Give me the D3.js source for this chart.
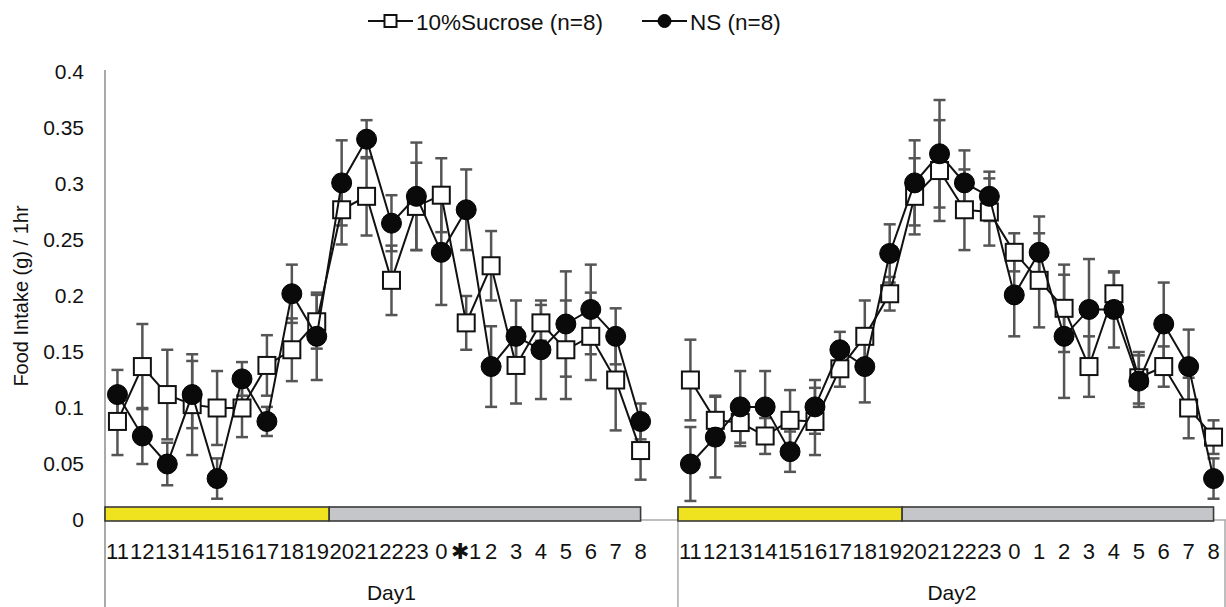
<!DOCTYPE html>
<html>
<head>
<meta charset="utf-8">
<script src="https://cdn.jsdelivr.net/npm/d3@7"></script>
<style>
  body { margin: 0; background: #fff; }
  svg { display: block; }
  text { font-family: "Liberation Sans", Arial, Helvetica, sans-serif; fill: #111; }
</style>
</head>
<body>
<svg id="chart" width="1226" height="607"></svg>
<script>
// ---- data -------------------------------------------------------------
const days = ["Day1", "Day2"];
const hoursDay1 = ["11","12","13","14","15","16","17","18","19","20","21","22","23","0","\u27311","2","3","4","5","6","7","8"];
const hoursDay2 = ["11","12","13","14","15","16","17","18","19","20","21","22","23","0","1","2","3","4","5","6","7","8"];
// light phase hours (yellow); the remaining hours are the dark phase (grey)
const lightHours = ["11","12","13","14","15","16","17","18","19"];

const seriesNames = ["10%Sucrose (n=8)", "NS (n=8)"];

// mean food intake (g / 1 hr) and SEM
const sucroseDay1    = [0.088,0.137,0.112,0.103,0.100,0.100,0.138,0.152,0.177,0.277,0.289,0.214,0.280,0.290,0.176,0.227,0.138,0.176,0.152,0.164,0.125,0.062];
const sucroseDay1Sem = [0.030,0.038,0.040,0.045,0.033,0.026,0.027,0.028,0.024,0.031,0.035,0.031,0.039,0.033,0.024,0.031,0.034,0.016,0.044,0.039,0.045,0.026];
const nsDay1         = [0.112,0.075,0.050,0.112,0.037,0.126,0.088,0.202,0.164,0.301,0.340,0.265,0.289,0.239,0.277,0.137,0.164,0.152,0.175,0.188,0.164,0.088];
const nsDay1Sem      = [0.022,0.025,0.019,0.030,0.018,0.015,0.013,0.026,0.039,0.038,0.017,0.025,0.048,0.047,0.036,0.036,0.032,0.044,0.047,0.040,0.025,0.016];
const sucroseDay2    = [0.125,0.089,0.087,0.075,0.089,0.088,0.135,0.164,0.202,0.289,0.312,0.277,0.275,0.239,0.214,0.189,0.137,0.202,0.127,0.137,0.100,0.074];
const sucroseDay2Sem = [0.036,0.022,0.021,0.016,0.027,0.030,0.016,0.032,0.015,0.034,0.045,0.036,0.030,0.017,0.042,0.039,0.027,0.019,0.023,0.018,0.027,0.015];
const nsDay2         = [0.050,0.074,0.101,0.101,0.061,0.101,0.152,0.137,0.238,0.301,0.327,0.301,0.289,0.201,0.239,0.164,0.188,0.188,0.124,0.175,0.137,0.037];
const nsDay2Sem      = [0.033,0.036,0.032,0.032,0.018,0.024,0.016,0.032,0.026,0.038,0.048,0.029,0.022,0.037,0.032,0.055,0.045,0.034,0.023,0.037,0.033,0.018];

const yTicks = [0, 0.05, 0.1, 0.15, 0.2, 0.25, 0.3, 0.35, 0.4];
const yTitle = "Food Intake (g) / 1hr";

// ---- layout -----------------------------------------------------------
const svg = d3.select("#chart");
const plotLeft = 105, plotRight = 1226, plotTop = 72, plotBottom = 520, chartBottom = 607;

// Multi-level category axis: each day holds its hours; Day1 carries one empty slot
const hoursByDay = { Day1: hoursDay1, Day2: hoursDay2 };
const categories = [];
days.forEach((day, di) => {
  hoursByDay[day].forEach((h, i) => categories.push({ key: day + "|" + i, day, label: h }));
  if (di < days.length - 1) categories.push({ key: day + "|gap", day, label: "" });
});

const x = d3.scaleBand().domain(categories.map(c => c.key)).range([plotLeft, plotRight]).padding(0);
const bw = x.bandwidth();
const cx = key => x(key) + bw / 2;
const y = d3.scaleLinear().domain([0, 0.4]).range([plotBottom, plotTop]);

// ---- y axis -------------------------------------------------------------
const yAxis = svg.append("g")
  .attr("transform", `translate(${plotLeft},0)`)
  .call(d3.axisLeft(y).tickValues(yTicks).tickSize(0).tickPadding(21)
    .tickFormat(d => d === 0 ? "0" : String(+d.toFixed(2))));
yAxis.select(".domain").remove();
yAxis.selectAll("text").style("font-size", "21px").attr("fill", "#111")
  .style("font-family", "'Liberation Sans', Arial, sans-serif");

svg.append("line")
  .attr("x1", plotLeft).attr("x2", plotLeft)
  .attr("y1", plotTop - 2).attr("y2", chartBottom)
  .attr("stroke", "#a9a9a9").attr("stroke-width", 2);

svg.append("text")
  .attr("transform", `translate(21,${(plotTop + plotBottom) / 2}) rotate(-90)`)
  .attr("text-anchor", "middle").attr("dominant-baseline", "central")
  .style("font-size", "20px")
  .text(yTitle);

// ---- x axis (hour labels, day groups) ----------------------------------
svg.append("line")
  .attr("x1", plotLeft).attr("x2", plotRight)
  .attr("y1", plotBottom).attr("y2", plotBottom)
  .attr("stroke", "#a9a9a9").attr("stroke-width", 1.5);

svg.append("g").selectAll("text")
  .data(categories.filter(c => c.label !== ""))
  .join("text")
  .attr("x", c => cx(c.key)).attr("y", 551)
  .attr("text-anchor", "middle").attr("dominant-baseline", "central")
  .style("font-size", "22px")
  .text(c => c.label);

days.forEach((day, di) => {
  const keys = categories.filter(c => c.day === day).map(c => c.key);
  const x0 = x(keys[0]), x1 = x(keys[keys.length - 1]) + bw;
  svg.append("text")
    .attr("x", (x0 + x1) / 2).attr("y", 592)
    .attr("text-anchor", "middle").attr("dominant-baseline", "central")
    .style("font-size", "21px")
    .text(day);
  svg.append("line")
    .attr("x1", x1 - (di === days.length - 1 ? 1 : 0)).attr("x2", x1 - (di === days.length - 1 ? 1 : 0))
    .attr("y1", plotBottom).attr("y2", chartBottom)
    .attr("stroke", "#a9a9a9").attr("stroke-width", 1.5);
});

// ---- light / dark phase bars -------------------------------------------
days.forEach(day => {
  const hours = hoursByDay[day];
  const firstDark = hours.findIndex(h => !lightHours.includes(h));
  const kStart = day + "|0", kDark = day + "|" + firstDark, kEnd = day + "|" + (hours.length - 1);
  const top = y(0) - 13, h = 14;
  svg.append("rect")
    .attr("x", x(kStart)).attr("y", top)
    .attr("width", x(kDark) - x(kStart)).attr("height", h)
    .attr("fill", "#efe21f").attr("stroke", "#3a3a3a").attr("stroke-width", 1.6);
  svg.append("rect")
    .attr("x", x(kDark)).attr("y", top)
    .attr("width", cx(kEnd) - x(kDark)).attr("height", h)
    .attr("fill", "#c4c6c9").attr("stroke", "#3a3a3a").attr("stroke-width", 1.6);
});

// ---- series -------------------------------------------------------------
const seriesData = [
  { name: seriesNames[0], marker: "square",
    byDay: { Day1: [sucroseDay1, sucroseDay1Sem], Day2: [sucroseDay2, sucroseDay2Sem] } },
  { name: seriesNames[1], marker: "circle",
    byDay: { Day1: [nsDay1, nsDay1Sem], Day2: [nsDay2, nsDay2Sem] } }
];
seriesData.forEach(s => {
  s.segments = days.map(day => s.byDay[day][0].map((v, i) => ({
    key: day + "|" + i, v, e: s.byDay[day][1][i]
  })));
});

const capW = 12;
// error bars underneath everything else
seriesData.forEach(s => {
  const pts = s.segments.flat();
  const g = svg.append("g").attr("stroke", "#555").attr("stroke-width", 2.5);
  g.selectAll("line.bar").data(pts).join("line")
    .attr("x1", d => cx(d.key)).attr("x2", d => cx(d.key))
    .attr("y1", d => y(d.v + d.e)).attr("y2", d => y(d.v - d.e));
  g.selectAll("line.capT").data(pts).join("line")
    .attr("x1", d => cx(d.key) - capW / 2).attr("x2", d => cx(d.key) + capW / 2)
    .attr("y1", d => y(d.v + d.e)).attr("y2", d => y(d.v + d.e));
  g.selectAll("line.capB").data(pts).join("line")
    .attr("x1", d => cx(d.key) - capW / 2).attr("x2", d => cx(d.key) + capW / 2)
    .attr("y1", d => y(d.v - d.e)).attr("y2", d => y(d.v - d.e));
});

const line = d3.line().x(d => cx(d.key)).y(d => y(d.v));
const sq = 17, rCircle = 10;

function drawMarker(sel, kind, size) {
  if (kind === "square") {
    sel.append("rect")
      .attr("x", -size / 2).attr("y", -size / 2).attr("width", size).attr("height", size)
      .attr("fill", "#fff").attr("stroke", "#111").attr("stroke-width", 2);
  } else {
    sel.append("circle").attr("r", size).attr("fill", "#0a0a0a").attr("stroke", "#000").attr("stroke-width", 1);
  }
}

seriesData.forEach(s => {
  const g = svg.append("g");
  g.selectAll("path").data(s.segments).join("path")
    .attr("d", line).attr("fill", "none").attr("stroke", "#111").attr("stroke-width", 2);
  g.selectAll("g.m").data(s.segments.flat()).join("g")
    .attr("transform", d => `translate(${cx(d.key)},${y(d.v)})`)
    .each(function () { drawMarker(d3.select(this), s.marker, s.marker === "square" ? sq : rCircle); });
});

// ---- legend -------------------------------------------------------------
const legendItems = [
  { name: seriesNames[0], marker: "square", x0: 368 },
  { name: seriesNames[1], marker: "circle", x0: 642 }
];
legendItems.forEach(it => {
  const g = svg.append("g").attr("transform", `translate(${it.x0},21)`);
  g.append("line").attr("x1", 0).attr("x2", 45).attr("stroke", "#111").attr("stroke-width", 2);
  const m = g.append("g").attr("transform", "translate(22.5,0)");
  drawMarker(m, it.marker, it.marker === "square" ? 12 : 6.5);
  g.append("text").attr("x", 48).attr("y", 1)
    .attr("dominant-baseline", "central").style("font-size", "22.5px")
    .text(it.name);
});
</script>
</body>
</html>
